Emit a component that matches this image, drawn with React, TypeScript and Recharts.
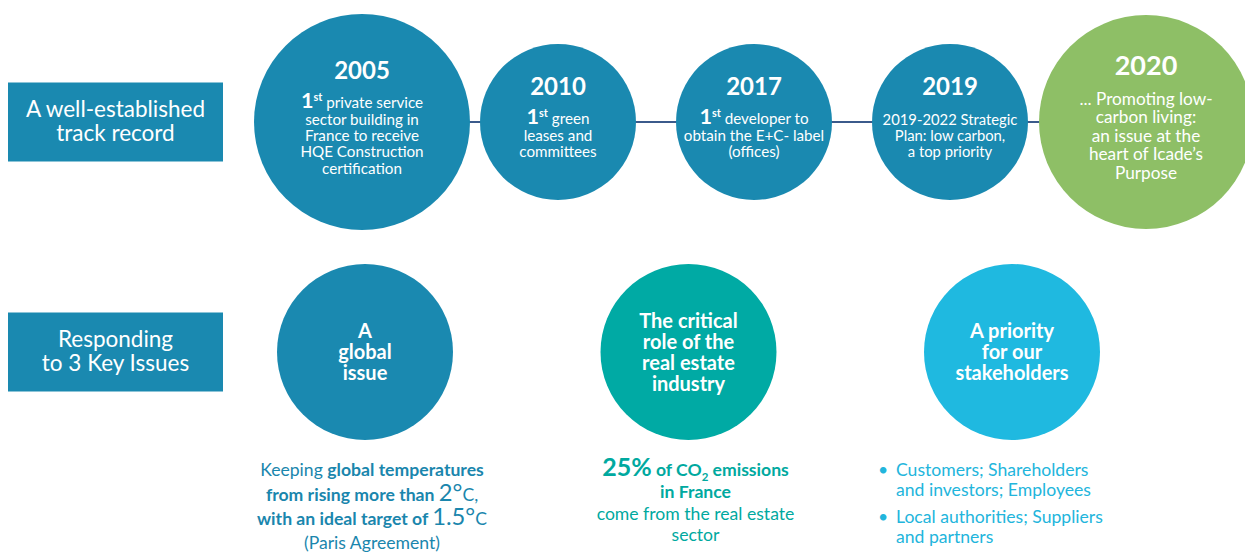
import React from "react";
import { ScatterChart, Scatter, XAxis, YAxis } from "recharts";

// markup used in the text arrays:
// [x] large bold, {x} superscript, *x* bold, _x_ subscript, <x> large regular
const rowLabels = ["A well-established\ntrack record", "Responding\nto 3 Key Issues"];

const milestoneYears = ["2005", "2010", "2017", "2019", "2020"];
const milestoneNotes = [
  ["[1]{st} private service", "sector building in", "France to receive", "HQE Construction", "certification"],
  ["[1]{st} green", "leases and", "committees"],
  ["[1]{st} developer to", "obtain the E+C- label", "(offices)"],
  ["2019-2022 Strategic", "Plan: low carbon,", "a top priority"],
  ["... Promoting low-", "carbon living:", "an issue at the", "heart of Icade\u2019s", "Purpose"],
];

const issueTitles = [
  "A\nglobal\nissue",
  "The critical\nrole of the\nreal estate\nindustry",
  "A priority\nfor our\nstakeholders",
];
const issueDetails = [
  ["Keeping *global temperatures*", "*from rising more than *<2°>C,", "*with an ideal target of *<1.5°>C", "(Paris Agreement)"],
  ["[25%]* of CO*_2_* emissions*", "*in France*", "come from the real estate", "sector"],
  ["\u2022 Customers; Shareholders", "and investors; Employees", "\u2022 Local authorities; Suppliers", "and partners"],
];

// styles
const FONT = "Lato, 'Noto Sans', sans-serif";
const BLUE = "#1a89b0";
const milestoneRadius = [108, 78, 78, 78, 107];
const milestoneFill = [BLUE, BLUE, BLUE, BLUE, "#8ebf66"];
const milestoneNoteSize = [15.2, 15.2, 15.2, 14.8, 17.2];
const milestoneYearSize = [24, 24, 24, 24, 27];
const milestoneLineH = [16.3, 16.5, 16.5, 16, 18.5];
const issueFill = [BLUE, "#00aaa4", "#1fb9e0"];
const issueText = ["#1a86ad", "#00a99f", "#22b5dc"];
const issueLineH = [24.3, 21.7, 20];
const issueTextShift = [7, 7, 0];

const timelineData = milestoneYears.map((year, index) => ({
  index,
  year,
  row: rowLabels[0],
  notes: milestoneNotes[index],
}));

const issueData = issueTitles.map((title, index) => ({
  index,
  issue: title,
  row: rowLabels[1],
  details: issueDetails[index],
}));

const TOKEN = /(\[[^\]]*\]|\{[^}]*\}|\*[^*]*\*|_[^_]*_|<[^>]*>)/;

function rich(line: string, size: number, weight: number) {
  const parts = line.split(TOKEN).filter((s) => s.length > 0);
  let off = 0;
  return parts.map((p, i) => {
    let text = p;
    let fs = size;
    let fw = weight;
    let target = 0;
    const k = p[0];
    if (k === "[") {
      text = p.slice(1, -1);
      fs = size * 1.42;
      fw = 700;
    } else if (k === "{") {
      text = p.slice(1, -1);
      fs = size * 0.72;
      fw = 700;
      target = -size * 0.5;
    } else if (k === "*") {
      text = p.slice(1, -1);
      fw = 700;
    } else if (k === "_") {
      text = p.slice(1, -1);
      fs = size * 0.65;
      fw = 700;
      target = size * 0.25;
    } else if (k === "<") {
      text = p.slice(1, -1);
      fs = size * 1.35;
      fw = 400;
    }
    const dy = target - off;
    off = target;
    return (
      <tspan key={i} dy={dy || undefined} fontSize={fs} fontWeight={fw}>
        {text}
      </tspan>
    );
  });
}

function RowBox(props: any) {
  const { y, payload } = props;
  const lines = String(payload.value).split("\n");
  return (
    <g>
      <rect x={8} y={y - 39.5} width={215} height={79} fill={BLUE} />
      {lines.map((l, i) => (
        <text
          key={i}
          x={115.5}
          y={y - 13 + i * 23.5 + 8}
          textAnchor="middle"
          fontFamily={FONT}
          fontSize={22.5}
          fill="#fff"
        >
          {l}
        </text>
      ))}
    </g>
  );
}

function Milestone(props: any) {
  const { cx, cy, payload } = props;
  const i = payload.index;
  const r = milestoneRadius[i];
  const ns = milestoneNoteSize[i];
  const lh = milestoneLineH[i];
  const notes: string[] = payload.notes;
  const gap = 33;
  const yearY = cy - 3 - (gap + (notes.length - 1) * lh) / 2;
  return (
    <g>
      <circle cx={cx} cy={cy} r={r} fill={milestoneFill[i]} />
      <text
        x={cx}
        y={yearY + milestoneYearSize[i] * 0.36}
        textAnchor="middle"
        fontFamily={FONT}
        fontSize={milestoneYearSize[i]}
        fontWeight={700}
        fill="#fff"
      >
        {payload.year}
      </text>
      {notes.map((l, j) => (
        <text
          key={j}
          x={cx}
          y={yearY + gap + j * lh + ns * 0.36}
          textAnchor="middle"
          fontFamily={FONT}
          fontSize={ns}
          fill="#fff"
          style={{ whiteSpace: "pre" }}
        >
          {rich(l, ns, 400)}
        </text>
      ))}
    </g>
  );
}

function Issue(props: any) {
  const { cx, cy, payload } = props;
  const i = payload.index;
  const title = String(payload.issue).split("\n");
  const details: string[] = payload.details;
  const ts = 20;
  const tlh = 21;
  const ds = 17.6;
  const list = details[0].startsWith("\u2022");
  let y = cy + 118;
  return (
    <g>
      <circle cx={cx} cy={cy} r={88} fill={issueFill[i]} />
      {title.map((l, j) => (
        <text
          key={j}
          x={cx}
          y={cy - ((title.length - 1) * tlh) / 2 + j * tlh + ts * 0.36}
          textAnchor="middle"
          fontFamily={FONT}
          fontSize={ts}
          fontWeight={700}
          fill="#fff"
        >
          {l}
        </text>
      ))}
      {details.map((l, j) => {
        const bullet = l.startsWith("\u2022");
        if (j > 0) y += issueLineH[i] + (list && bullet ? 7 : 0);
        const text = bullet ? l.slice(2) : l;
        return (
          <g key={j}>
            {bullet && (
              <text x={cx - 134} y={y + ds * 0.36} fontFamily={FONT} fontSize={ds} fill={issueText[i]}>
                {"\u2022"}
              </text>
            )}
            <text
              x={list ? cx - 116 : cx + issueTextShift[i]}
              y={y + ds * 0.36}
              textAnchor={list ? "start" : "middle"}
              fontFamily={FONT}
              fontSize={ds}
              fill={issueText[i]}
              style={{ whiteSpace: "pre" }}
            >
              {rich(text, ds, 400)}
            </text>
          </g>
        );
      })}
    </g>
  );
}

export default function App() {
  return (
    <div style={{ position: "fixed", left: 0, top: 0, width: 1245, height: 553, background: "#fff" }}>
      <ScatterChart width={1245} height={553} margin={{ top: 0, right: 0, bottom: 0, left: 0 }}>
        <XAxis
          xAxisId="timeline"
          dataKey="year"
          type="category"
          scale="point"
          allowDuplicatedCategory={false}
          padding={{ left: 138, right: 99 }}
          hide
        />
        <XAxis
          xAxisId="issues"
          dataKey="issue"
          type="category"
          scale="point"
          allowDuplicatedCategory={false}
          padding={{ left: 141, right: 233 }}
          hide
        />
        <YAxis
          dataKey="row"
          type="category"
          scale="point"
          reversed
          allowDuplicatedCategory={false}
          padding={{ top: 122, bottom: 201 }}
          width={224}
          axisLine={false}
          tickLine={false}
          interval={0}
          tick={(p: any) => <RowBox {...p} />}
        />
        <Scatter
          xAxisId="timeline"
          data={timelineData}
          line={{ stroke: "#3b5a8b", strokeWidth: 2.2 }}
          lineType="joint"
          shape={(p: any) => <Milestone {...p} />}
          isAnimationActive={false}
        />
        <Scatter
          xAxisId="issues"
          data={issueData}
          shape={(p: any) => <Issue {...p} />}
          isAnimationActive={false}
        />
      </ScatterChart>
    </div>
  );
}
